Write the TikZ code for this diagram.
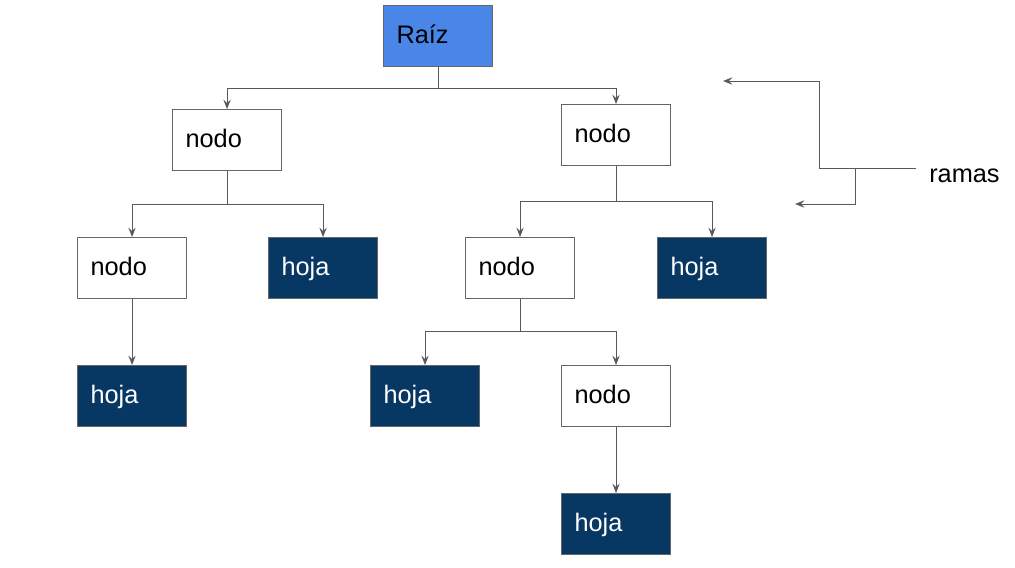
\documentclass[tikz,border=0pt]{standalone}
\usepackage{fontspec}
\setmainfont{Liberation Sans}
\usetikzlibrary{arrows.meta}
\definecolor{linegray}{HTML}{595959}
\definecolor{boxgray}{HTML}{666666}
\definecolor{rootblue}{HTML}{4A86E8}
\definecolor{leafblue}{HTML}{073763}
\tikzset{
  box/.style={draw=boxgray, line width=0.8pt, minimum width=81.75pt, minimum height=45.75pt,
    inner xsep=9.75pt, inner ysep=0pt, text width=62.25pt, align=left,
    text height=1.05em, text depth=-0.3em,
    font=\fontsize{19}{21}\selectfont, anchor=north west},
  nodobox/.style={box, fill=white, text=black},
  hojabox/.style={box, fill=leafblue, text=white},
  raizbox/.style={box, fill=rootblue, text=black},
  conn/.style={draw=linegray, line width=0.75pt, -{Stealth[length=7pt,width=5.5pt,inset=2.5pt]}},
  plain/.style={draw=linegray, line width=0.75pt},
}
\begin{document}
\begin{tikzpicture}[x=0.75pt,y=-0.75pt]
\useasboundingbox (0,0) rectangle (1015,568);
% nodes
\node[raizbox] (raiz) at (383,5) {Raíz};
\node[nodobox] (n1) at (172,109) {nodo};
\node[nodobox] (n2) at (561,104) {nodo};
\node[nodobox] (n3) at (77,237) {nodo};
\node[hojabox] (h1) at (268,237) {hoja};
\node[nodobox] (n4) at (465,237) {nodo};
\node[hojabox] (h2) at (657,237) {hoja};
\node[hojabox] (h3) at (77,365) {hoja};
\node[hojabox] (h4) at (370,365) {hoja};
\node[nodobox] (n5) at (561,365) {nodo};
\node[hojabox] (h5) at (561,493) {hoja};
\node[font=\fontsize{19}{21}\selectfont, anchor=west, inner sep=0pt] (ramas) at (929,176) {ramas};
% connectors
\draw[conn] (raiz.south) -- (raiz.south |- 0,88) -| (n1.north);
\draw[conn] (raiz.south) -- (raiz.south |- 0,88) -| (n2.north);
\draw[conn] (n1.south) -- (n1.south |- 0,204) -| (n3.north);
\draw[conn] (n1.south) -- (n1.south |- 0,204) -| (h1.north);
\draw[conn] (n2.south) -- (n2.south |- 0,201) -| (n4.north);
\draw[conn] (n2.south) -- (n2.south |- 0,201) -| (h2.north);
\draw[conn] (n3.south) -- (h3.north);
\draw[conn] (n4.south) -- (n4.south |- 0,331) -| (h4.north);
\draw[conn] (n4.south) -- (n4.south |- 0,331) -| (n5.north);
\draw[conn] (n5.south) -- (h5.north);
% ramas
\coordinate (rs) at (916,168);
\coordinate (rj) at (855,168);
\coordinate (ra) at (723,81);
\coordinate (rb) at (795,204);
\draw[plain] (rs) -- (rj);
\draw[conn] (rj) -- (819,168) |- (ra);
\draw[conn] (rj) |- (rb);
\end{tikzpicture}
\end{document}
